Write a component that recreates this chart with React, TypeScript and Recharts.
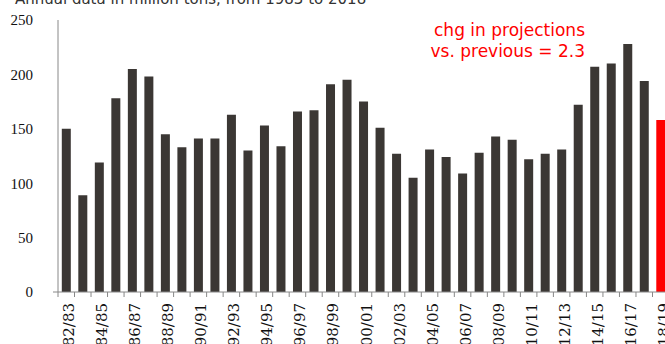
import React from "react";
import { BarChart, Bar, XAxis, YAxis, Cell } from "recharts";

const seasons = [
  "1982/83", "1983/84", "1984/85", "1985/86", "1986/87", "1987/88", "1988/89", "1989/90",
  "1990/91", "1991/92", "1992/93", "1993/94", "1994/95", "1995/96", "1996/97", "1997/98",
  "1998/99", "1999/00", "2000/01", "2001/02", "2002/03", "2003/04", "2004/05", "2005/06",
  "2006/07", "2007/08", "2008/09", "2009/10", "2010/11", "2011/12", "2012/13", "2013/14",
  "2014/15", "2015/16", "2016/17", "2017/18", "2018/19",
];

const values = [
  150, 89, 119, 178, 205, 198, 145, 133, 141, 141, 163, 130, 153, 134, 166, 167,
  191, 195, 175, 151, 127, 105, 131, 124, 109, 128, 143, 140, 122, 127, 131, 172,
  207, 210, 228, 194, 158,
];

const yTicks = [0, 50, 100, 150, 200, 250];

const titleText = "Annual data in million tons, from 1983 to 2018";
const noteLines = ["chg in projections", "vs. previous = 2.3"];

const data = seasons.map((s, i) => ({ label: s, value: values[i] }));

const XTick = (props: any) => {
  const { x, y, payload, index, width, visibleTicksCount } = props;
  const band = width / visibleTicksCount;
  const lx = x - band / 2;
  const text = String(payload.value);
  return (
    <g>
      {index === 0 && <line x1={lx - 5} y1={y} x2={lx} y2={y} stroke="#888" strokeWidth={1} />}
      <line x1={lx} y1={y} x2={lx} y2={y + 5} stroke="#888" strokeWidth={1} />
      {index % 2 === 0 && (
        <text
          x={x + 8}
          y={y + 11}
          transform={`rotate(-90, ${x + 8}, ${y + 11})`}
          textAnchor="end"
          fontFamily="'DejaVu Serif', serif"
          fontSize={15}
          fill="#111"
        >
          {text}
        </text>
      )}
    </g>
  );
};

export default function App() {
  return (
    <div
      style={{
        position: "absolute",
        left: 0,
        top: 0,
        width: 665,
        height: 344,
        overflow: "hidden",
        background: "#fff",
      }}
    >
      <BarChart
        width={680}
        height={360}
        data={data}
        margin={{ top: 20, right: 11, left: 0, bottom: 8 }}
        barCategoryGap="23%"
      >
        <YAxis
          domain={[0, 250]}
          ticks={yTicks}
          width={58}
          tickLine={false}
          tickSize={6}
          tickMargin={19}
          axisLine={{ stroke: "#888" }}
          tick={{ fontFamily: "'Liberation Serif', serif", fontSize: 15, fill: "#111" }}
        />
        <XAxis
          dataKey="label"
          interval={0}
          height={60}
          tickLine={false}
          tickSize={0}
          tickMargin={0}
          axisLine={{ stroke: "#888" }}
          tick={<XTick />}
        />
        <Bar dataKey="value" isAnimationActive={false}>
          {data.map((d, i) => (
            <Cell key={d.label} fill={i === data.length - 1 ? "#ff0000" : "#3b3734"} />
          ))}
        </Bar>
      </BarChart>
      <svg
        width={665}
        height={344}
        style={{ position: "absolute", left: 0, top: 0, pointerEvents: "none" }}
      >
        <text x={15} y={4} fontFamily="'DejaVu Sans', sans-serif" fontSize={15} fill="#333">
          {titleText}
        </text>
        <text x={585} y={36} textAnchor="end" fontFamily="'DejaVu Sans', sans-serif" fontSize={17} fill="#ff0000">
          {noteLines[0]}
        </text>
        <text x={585} y={57} textAnchor="end" fontFamily="'DejaVu Sans', sans-serif" fontSize={17} fill="#ff0000">
          {noteLines[1]}
        </text>
      </svg>
    </div>
  );
}
